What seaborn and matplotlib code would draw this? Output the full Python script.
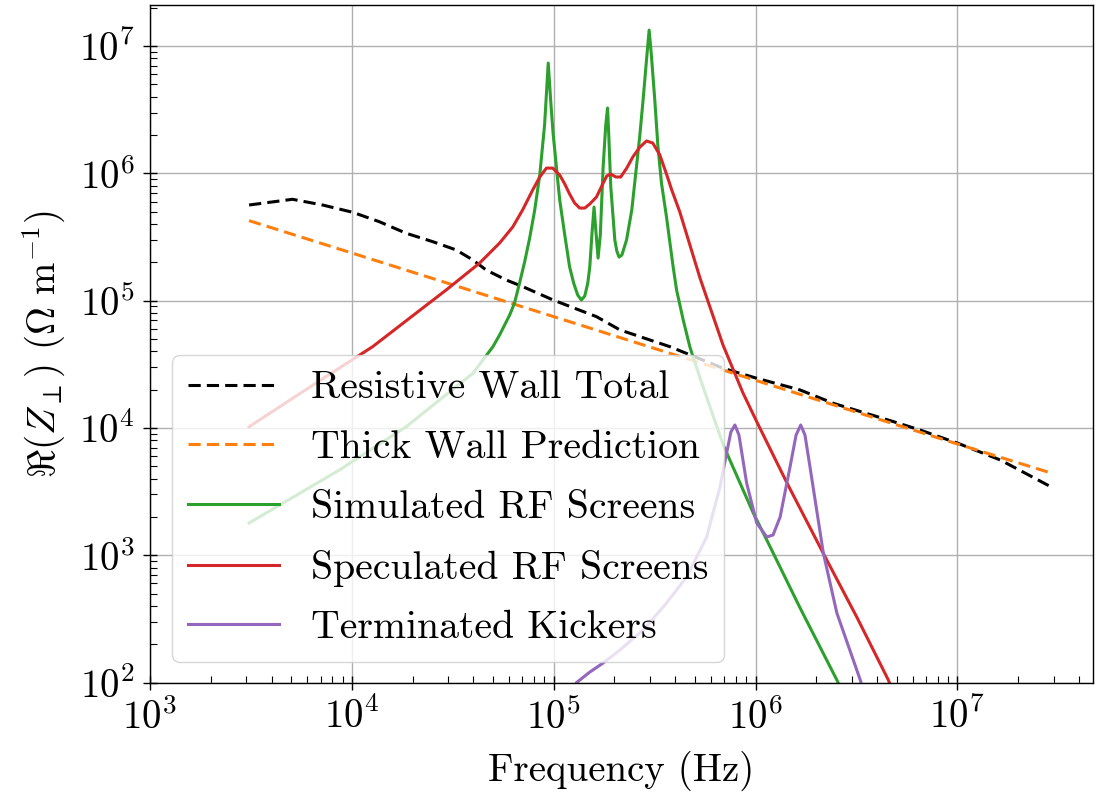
import numpy as np
import matplotlib
matplotlib.use("Agg")
import matplotlib.pyplot as plt
import matplotlib.ticker as mticker
import seaborn as sns

# ---------------- data (log10 values) ----------------
rw_log_f = [3.491, 3.706, 3.855, 4.004, 4.136, 4.269, 4.401, 4.517, 4.600, 4.666,
            4.765, 4.848, 4.997, 5.212, 5.328, 5.576, 5.840, 6.006, 6.221, 6.386,
            6.684, 6.816, 7.003, 7.213, 7.470]
rw_log_z = [5.751, 5.796, 5.751, 5.694, 5.620, 5.529, 5.463, 5.398, 5.319, 5.240,
            5.162, 5.109, 5.005, 4.874, 4.770, 4.638, 4.468, 4.390, 4.298, 4.193,
            4.049, 3.983, 3.879, 3.748, 3.532]

tw_log_f = [3.491, 4.0, 5.0, 6.0, 7.0, 7.470]
tw_log_z = [5.628, 5.374, 4.874, 4.374, 3.874, 3.643]

sim_log_f = [3.491, 3.938, 4.269, 4.434, 4.600, 4.699, 4.732, 4.782, 4.806, 4.831,
             4.856, 4.881, 4.906, 4.931, 4.955, 4.973, 4.985, 4.997, 5.015, 5.030,
             5.055, 5.079, 5.099, 5.119, 5.137, 5.154, 5.169, 5.179, 5.190, 5.200,
             5.208, 5.220, 5.231, 5.245, 5.258, 5.267, 5.273, 5.283, 5.303, 5.313,
             5.324, 5.338, 5.361, 5.387, 5.410, 5.427, 5.443, 5.462, 5.473, 5.484,
             5.501, 5.516, 5.534, 5.559, 5.592, 5.609, 5.642, 5.675, 5.725, 5.840,
             5.989, 6.056, 6.221, 6.403, 6.419]
sim_log_z = [3.253, 3.669, 4.009, 4.219, 4.429, 4.638, 4.730, 4.887, 4.981, 5.138,
             5.303, 5.491, 5.711, 5.986, 6.379, 6.866, 6.576, 6.316, 6.026, 5.790,
             5.515, 5.264, 5.138, 5.044, 5.005, 5.036, 5.138, 5.266, 5.531, 5.735,
             5.570, 5.334, 5.515, 6.049, 6.379, 6.513, 6.301, 5.892, 5.476, 5.389,
             5.342, 5.358, 5.476, 5.712, 6.049, 6.301, 6.576, 6.929, 7.125, 6.929,
             6.576, 6.222, 5.924, 5.657, 5.264, 5.083, 4.847, 4.635, 4.392, 3.866,
             3.331, 3.119, 2.585, 2.020, 1.965]

spec_log_f = [3.491, 3.739, 3.938, 4.103, 4.285, 4.467, 4.633, 4.732, 4.797, 4.846,
              4.896, 4.931, 4.964, 4.995, 5.030, 5.055, 5.079, 5.104, 5.129, 5.154,
              5.179, 5.212, 5.243, 5.263, 5.283, 5.308, 5.332, 5.362, 5.392, 5.427,
              5.460, 5.491, 5.526, 5.559, 5.585, 5.625, 5.725, 5.839, 5.938, 6.007,
              6.156, 6.335, 6.504, 6.658, 6.672]
spec_log_z = [4.009, 4.266, 4.470, 4.638, 4.861, 5.083, 5.295, 5.452, 5.578, 5.712,
              5.869, 5.971, 6.041, 6.041, 5.986, 5.916, 5.837, 5.766, 5.727, 5.727,
              5.759, 5.814, 5.916, 5.979, 5.994, 5.971, 5.971, 6.041, 6.128, 6.206,
              6.254, 6.238, 6.144, 5.994, 5.869, 5.696, 5.177, 4.651, 4.274, 4.046,
              3.567, 3.017, 2.507, 2.020, 1.965]

kick_log_f = [5.114, 5.179, 5.245, 5.328, 5.443, 5.551, 5.659, 5.758, 5.824, 5.857,
              5.878, 5.898, 5.918, 5.956, 6.006, 6.056, 6.087, 6.122, 6.171, 6.201,
              6.224, 6.245, 6.270, 6.336, 6.403, 6.519, 6.529]
kick_log_z = [2.000, 2.082, 2.153, 2.255, 2.412, 2.609, 2.829, 3.143, 3.536, 3.803,
              3.968, 4.023, 3.944, 3.567, 3.253, 3.143, 3.159, 3.300, 3.693, 3.944,
              4.023, 3.944, 3.693, 3.017, 2.546, 2.020, 1.965]

labels = ["Resistive Wall Total", "Thick Wall Prediction", "Simulated RF Screens",
          "Speculated RF Screens", "Terminated Kickers"]
xtick_vals = [1e3, 1e4, 1e5, 1e6, 1e7]
ytick_vals = [1e2, 1e3, 1e4, 1e5, 1e6, 1e7]

# ---------------- style ----------------
plt.rcParams.update({
    "font.family": "cmr10",
    "mathtext.fontset": "cm",
    "axes.formatter.use_mathtext": True,
    "axes.unicode_minus": False,
    "font.size": 28,
})

fig = plt.figure(figsize=(10.96, 7.93), dpi=100)
ax = fig.add_axes([150 / 1096, (793 - 682.5) / 793, 943 / 1096, 677.5 / 793])

series = [
    (rw_log_f, rw_log_z, "black", "--"),
    (tw_log_f, tw_log_z, "#ff7f0e", "--"),
    (sim_log_f, sim_log_z, "#2ca02c", "-"),
    (spec_log_f, spec_log_z, "#d62728", "-"),
    (kick_log_f, kick_log_z, "#9467bd", "-"),
]
for (lf, lz, col, ls), lab in zip(series, labels):
    f = 10 ** np.array(lf)
    z = 10 ** np.array(lz)
    line_ax = sns.lineplot(x=f, y=z, ax=ax, color=col, linestyle=ls, linewidth=2.2,
                           label=lab, sort=False, estimator=None)
    if ls == "--":
        line_ax.lines[-1].set_dashes((4, 2))

ax.set_xscale("log")
ax.set_yscale("log")
ax.set_xlim(1e3, 4.7e7)
ax.set_ylim(1e2, 2.1e7)
ax.set_xticks(xtick_vals)
ax.set_yticks(ytick_vals)
ax.xaxis.set_minor_locator(mticker.LogLocator(base=10, subs=np.arange(2, 10), numticks=20))
ax.yaxis.set_minor_locator(mticker.LogLocator(base=10, subs=np.arange(2, 10), numticks=20))
ax.xaxis.set_minor_formatter(mticker.NullFormatter())
ax.yaxis.set_minor_formatter(mticker.NullFormatter())

ax.grid(True, which="major", color="#b0b0b0", linewidth=1.0)
ax.tick_params(which="major", direction="inout", length=10, width=1.0, labelsize=28, pad=6)
ax.tick_params(which="minor", direction="in", length=5, width=0.8)
for sp in ax.spines.values():
    sp.set_linewidth(1.0)
    sp.set_color("black")

ax.set_xlabel("Frequency (Hz)", fontsize=28, labelpad=10)
ax.set_ylabel(r"$\Re(Z_\perp)$ $(\Omega\ \mathrm{m}^{-1})$", fontsize=28, labelpad=8)

leg = ax.legend(loc="lower left", bbox_to_anchor=(0.0233, 0.030), borderaxespad=0,
                fontsize=28.6, handlelength=2.3, labelspacing=0.6,
                framealpha=0.8, fancybox=True)
for h in leg.get_lines()[:2]:
    h.set_dashes((4, 2))

fig.savefig("out.png", dpi=100)
